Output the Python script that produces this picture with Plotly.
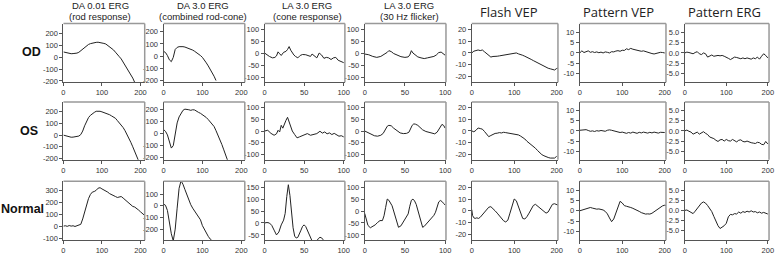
import plotly.graph_objects as go

W, H = 778, 255

# ---------------- text ----------------
col_titles_top = ["DA 0.01 ERG", "DA 3.0 ERG", "LA 3.0 ERG", "LA 3.0 ERG"]
col_titles_sub = ["(rod response)", "(combined rod-cone)", "(cone response)", "(30 Hz flicker)"]
col_titles_big = ["Flash VEP", "Pattern VEP", "Pattern ERG"]
row_labels = ["OD", "OS", "Normal"]

# ---------------- data ----------------
# DA 0.01 ERG (rod response)
da001_od_x = list(range(0, 190, 5))
da001_od_y = [45, 40, 35, 32, 30, 31, 32, 35, 42, 55,
              70, 85, 98, 108, 115, 120, 123, 126, 127, 125,
              122, 117, 112, 101, 90, 74, 62, 43, 27, 5,
              -14, -40, -60, -90, -113, -147, -176, -212]
da001_os_x = list(range(0, 200, 5))
da001_os_y = [0, -5, -10, -15, -18, -17, -15, -12, -8, 5,
              35, 80, 120, 150, 170, 185, 195, 205, 208, 205,
              200, 195, 190, 182, 175, 165, 155, 145, 125, 108,
              88, 65, 38, 8, -25, -62, -100, -140, -180, -220]
da001_n_x = list(range(0, 215, 5))
da001_n_y = [0, 3, -2, 5, 0, 3, -3, 2, 5, 15,
             60, 120, 180, 230, 265, 285, 290, 300, 318, 322,
             312, 305, 295, 285, 272, 262, 255, 248, 240, 245,
             248, 235, 220, 205, 190, 175, 165, 160, 150, 135,
             120, 105, 92]

# DA 3.0 ERG (combined rod-cone)
da30_od_x = list(range(0, 140, 5))
da30_od_y = [40, 30, 5, -30, -45, -10, 55, 72, 78, 80,
             78, 75, 70, 65, 58, 50, 40, 30, 17, 5,
             -10, -30, -55, -80, -105, -135, -165, -200]
da30_os_x = list(range(0, 170, 5))
da30_os_y = [35, 20, -10, -70, -120, -100, 0, 90, 140, 175,
             195, 205, 205, 200, 195, 200, 198, 185, 178, 170,
             160, 150, 135, 118, 98, 80, 60, 25, -10, -50,
             -90, -135, -180, -225]
da30_n_x = list(range(0, 130, 5))
da30_n_y = [15, 5, -40, -150, -240, -300, -200, -20, 150, 215,
            185, 140, 95, 50, 10, -20, -45, -65, -95, -120,
            -170, -205, -235, -262, -285, -300]

# LA 3.0 ERG (cone response)
la_cone_od_x = [0, 3, 6, 10, 13, 15, 17, 19, 21, 24, 27, 29, 31, 33, 35, 37, 39, 42, 45, 48,
                52, 55, 58, 60, 63, 66, 69, 72, 75, 78, 81, 84, 87, 90, 93, 96, 100]
la_cone_od_y = [0, -8, -14, -20, -18, -12, 5, -3, -10, 3, 7, 15, 27, 12, 0, -8, -14, -20, -10, -6,
                -7, -12, -14, -4, -12, -20, 0, -8, -22, -18, -20, -27, -20, -18, -30, -34, -40]
la_cone_os_x = [0, 4, 8, 12, 15, 17, 19, 21, 23, 25, 27, 29, 31, 33, 35, 38, 41, 44, 47, 50,
                54, 58, 62, 66, 70, 73, 76, 79, 82, 85, 88, 91, 94, 97, 100]
la_cone_os_y = [0, 3, -10, -18, -12, 3, -4, 24, 12, 31, 45, 58, 40, 17, 0, -15, -29, -25, -20, -15,
                -11, -18, -14, -11, -1, -9, -4, -12, -8, -15, -10, -18, -22, -20, -25]
la_cone_n_x = [0, 3, 6, 9, 12, 15, 18, 21, 24, 26, 28, 30, 32, 34, 36, 38, 40, 42, 44, 46,
               48, 50, 52, 54, 56, 58, 60, 62, 64, 66, 68, 70, 72, 74, 76, 78]
la_cone_n_y = [0, 2, 0, -10, -30, -50, -38, -8, 12, 40, 110, 160, 115, 40, -20, -55, -63, -60, -48, -30,
               -14, -8, -15, -30, -48, -65, -80, -90, -85, -72, -65, -60, -62, -70, -78, -85]

# LA 3.0 ERG (30 Hz flicker)
flick_od_x = [0, 5, 10, 15, 20, 25, 28, 30, 33, 36, 40, 45, 50, 54, 56, 58, 60, 63, 66, 70,
              74, 78, 82, 86, 89, 92, 95, 98, 100]
flick_od_y = [-4, -7, -14, -18, -14, -5, 3, 10, 6, -2, -9, -15, -18, -16, -8, 10, 0, -10, -16, -20,
              -23, -20, -18, -14, -8, 2, 4, -2, -9]
flick_os_x = [0, 4, 8, 12, 16, 20, 23, 26, 28, 30, 33, 36, 40, 44, 48, 52, 55, 57, 59, 61,
              63, 66, 69, 72, 76, 80, 84, 87, 90, 92, 94, 96, 98, 100]
flick_os_y = [0, -6, -12, -20, -22, -18, -10, 5, 20, 24, 22, 12, 0, -8, -11, -10, -5, 10, 24, 30,
              29, 24, 15, 5, -2, -6, -9, -12, -5, 5, 20, 28, 24, 12]
flick_n_x = [0, 2, 4, 7, 10, 13, 16, 19, 22, 24, 26, 28, 30, 32, 34, 36, 38, 40, 42, 45,
             48, 51, 54, 56, 58, 60, 62, 64, 66, 68, 70, 72, 74, 77, 80, 83, 86, 88, 90, 92,
             94, 96, 98, 100]
flick_n_y = [-10, -40, -60, -70, -65, -58, -48, -40, -40, -20, 15, 50, 45, 35, 22, 0, -25, -50, -68, -62,
             -45, -28, -12, 20, 45, 50, 42, 28, 5, -25, -50, -68, -64, -52, -38, -28, -18, -5, 20, 38,
             44, 40, 32, 25]

# Flash VEP
fvep_od_x = list(range(0, 210, 5))
fvep_od_y = [0, 1.5, 2, 2.5, 2, 2.5, 1, -0.5, -2.5, -3.5,
             -3, -3.2, -2.8, -2.5, -2.2, -2, -1.5, -1, -0.8, -0.2,
             -0.5, 0, -0.8, -1.2, -2, -2.8, -3.5, -4.5, -5.5, -6.5,
             -7.5, -8.5, -9.5, -10.5, -11.5, -12.2, -13, -13.5, -14, -14.5,
             -13.2, -12.5]
fvep_os_x = list(range(0, 205, 5))
fvep_os_y = [0, -0.8, 0.5, 2.5, 2, 1.5, -0.5, -3, -5, -4,
             -3, -2.2, -2, -1.5, -1.8, -1.2, -1.5, -1.8, -2, -2,
             -2.5, -3, -3.5, -4.5, -5.5, -7, -9, -10.5, -11.5, -13,
             -15, -17, -19, -20.5, -21.5, -22.5, -23, -23.5, -23.2, -23.5,
             -22]
fvep_n_x = [0, 2, 5, 8, 12, 16, 20, 25, 30, 35, 40, 45, 50, 55, 60, 65, 70, 75, 80, 85,
            90, 95, 100, 105, 110, 115, 120, 125, 130, 135, 140, 145, 150, 155, 160, 165, 170, 175, 180, 185,
            190, 195, 200, 205]
fvep_n_y = [1, -4, -6, -6.5, -6, -6.5, -5.5, -3.5, -1, 1, 3, 3.5, 2, 0, -2, -4.5, -6.5, -8.5, -9.5, -8,
            -2, 5, 10, 8.5, 3, -3, -6.5, -7, -5, -2, 2, 4.5, 5.5, 4, 3, 1.5, -0.5, -2, -1, 3,
            5.5, 6, 5, 4.5]

# Pattern VEP
pvep_od_x = list(range(0, 205, 5))
pvep_od_y = [0, 1, 0.2, 0.5, 1, 0.3, 0.6, 0.2, 0.5, 0.1,
             0.4, 0, 0.5, 0.3, 0, 0.6, 0.5, 0.9, 1.1, 0.8,
             1.3, 1.2, 2, 1.6, 2.2, 1.8, 1.6, 1.4, 1.2, 0.8,
             1, 0.6, 0.3, 0.1, -0.3, -0.5, -0.2, 0, 0.3, 0.2,
             0]
pvep_os_x = list(range(0, 205, 5))
pvep_os_y = [0.3, 0.5, 0.4, 0.6, 0.2, -0.2, 0, -0.3, 0.1, -0.1,
             0.2, 0, -0.2, 0.3, 0.5, 0.3, 0, -0.3, -0.5, -0.8,
             -0.6, -1, -1.2, -0.8, -1.1, -0.6, -0.9, -1.2, -0.7, -1,
             -0.6, -0.9, -1.1, -0.7, -1, -0.6, -0.8, -1.1, -0.7, -0.9,
             -0.8]
pvep_n_x = list(range(0, 210, 5))
pvep_n_y = [0, 0.3, 0.6, 1, 1.3, 1.6, 1.3, 0.9, 0.8, 0.9,
            0.7, 0.4, -0.3, -1.5, -3.5, -5.3, -4, -1, 2.5, 4.6,
            3.8, 2.5, 2.2, 2, 1.6, 1.2, 0.8, 0.3, -0.3, -0.9,
            -1.4, -1.6, -1.5, -1.6, -1.2, -0.5, 0.3, 1, 1.8, 2.4,
            2.7, 2.6]

# Pattern ERG
perg_od_x = list(range(0, 205, 5))
perg_od_y = [0, 0.2, 0.1, 0, -0.2, 0.1, 0.3, -0.2, -0.4, 0,
             -0.2, -1, -0.8, -0.5, -0.8, -0.7, -0.6, -0.7, -0.6, -0.8,
             -1, -1.3, -1.6, -1.2, -1, -1.1, -1.3, -1.4, -1.2, -1.4,
             -1.2, -1.3, -1.5, -1.2, -1.4, -1, -1.5, -0.8, -0.2, -0.6,
             -1.2]
perg_os_x = list(range(0, 205, 5))
perg_os_y = [0, 0.2, -0.1, -0.3, -0.8, -0.5, -0.3, -0.8, -0.4, -0.2,
             -0.6, -0.9, -1.5, -1.7, -1.9, -2.3, -2.6, -2.2, -2.1, -2.5,
             -2.1, -2.4, -2.5, -2.1, -2.4, -2.7, -2.3, -2.2, -2.6, -2.7,
             -2.5, -2.8, -2.9, -3, -3.1, -2.8, -2.9, -3.3, -3.4, -2.6,
             -3.2]
perg_n_x = list(range(0, 205, 5))
perg_n_y = [0, 0.1, -0.2, -0.5, -0.8, -0.2, 0.5, 1.1, 1.8, 2.1,
            1.8, 1.2, 0.5, -0.3, -1.5, -2.8, -3.8, -4.5, -4.2, -3.8,
            -3.2, -1.6, -1, -1.1, -0.8, -0.9, -0.4, -0.7, -0.3, -0.5,
            -0.2, -0.4, -0.1, -0.4, -0.3, -0.6, -0.4, -0.7, -0.5, -0.8,
            -0.9]

# axis scales per panel (row, col): y range and y ticks
x_ranges = [[0, 211], [0, 209], [0, 101.5], [0, 101], [0, 203], [0, 203], [0, 203]]
x_ticks = [[0, 100, 200], [0, 100, 200], [0, 50, 100], [0, 50, 100],
           [0, 100, 200], [0, 100, 200], [0, 100, 200]]
y_ranges = [
    [[-212, 285], [-215, 268], [-122, 123], [-122, 123], [-25, 25], [-14.2, 14.2], [-7.1, 7.1]],
    [[-212, 285], [-218, 265], [-122, 123], [-122, 123], [-25, 25], [-14.2, 14.2], [-7.1, 7.1]],
    [[-118, 375], [-295, 210], [-72, 174], [-122, 124], [-25, 25], [-14.3, 14.3], [-7.4, 7.2]],
]
y_ticks_std = [-200, -100, 0, 100, 200]
y_ticks = [
    [y_ticks_std, y_ticks_std, [-100, -50, 0, 50, 100], [-100, -50, 0, 50, 100],
     [-20, -10, 0, 10, 20], [-10, -5, 0, 5, 10], [-5, -2.5, 0, 2.5, 5]],
    [y_ticks_std, y_ticks_std, [-100, -50, 0, 50, 100], [-100, -50, 0, 50, 100],
     [-20, -10, 0, 10, 20], [-10, -5, 0, 5, 10], [-5, -2.5, 0, 2.5, 5]],
    [[-100, 0, 100, 200, 300], [-200, -100, 0, 100], [-50, 0, 50, 100, 150], [-100, -50, 0, 50, 100],
     [-20, -10, 0, 10, 20], [-10, -5, 0, 5, 10], [-5, -2.5, 0, 2.5, 5]],
]

series = [
    [(da001_od_x, da001_od_y), (da30_od_x, da30_od_y), (la_cone_od_x, la_cone_od_y),
     (flick_od_x, flick_od_y), (fvep_od_x, fvep_od_y), (pvep_od_x, pvep_od_y), (perg_od_x, perg_od_y)],
    [(da001_os_x, da001_os_y), (da30_os_x, da30_os_y), (la_cone_os_x, la_cone_os_y),
     (flick_os_x, flick_os_y), (fvep_os_x, fvep_os_y), (pvep_os_x, pvep_os_y), (perg_os_x, perg_os_y)],
    [(da001_n_x, da001_n_y), (da30_n_x, da30_n_y), (la_cone_n_x, la_cone_n_y),
     (flick_n_x, flick_n_y), (fvep_n_x, fvep_n_y), (pvep_n_x, pvep_n_y), (perg_n_x, perg_n_y)],
]

# ---------------- layout (pixel boxes) ----------------
col_px = [(62, 144), (163, 245), (265, 346), (366, 448), (474, 561), (583, 670), (689, 774)]
row_px = [(24, 84), (104, 163), (185, 245)]


def fmt(v, col):
    if col == 6:
        s = "%.1f" % v
    else:
        s = "%g" % v
    return s


TICKFONT = dict(family="Arial, Liberation Sans, sans-serif", size=7.5, color="#333")

fig = go.Figure()
layout = dict(width=W, height=H, margin=dict(l=0, r=0, t=0, b=0), autosize=False,
              paper_bgcolor="white", plot_bgcolor="white", showlegend=False)
shapes = []
for r in range(3):
    for c in range(7):
        n = r * 7 + c + 1
        sx = "" if n == 1 else str(n)
        xs, ys = series[r][c]
        fig.add_trace(go.Scatter(x=xs, y=ys, mode="lines", xaxis="x" + sx, yaxis="y" + sx,
                                 line=dict(color="#222", width=1), hoverinfo="skip"))
        x0, x1 = col_px[c]
        y0, y1 = row_px[r]
        common = dict(showline=True, linecolor="#555", linewidth=1, showgrid=False, zeroline=False,
                      ticks="outside", ticklen=3, tickwidth=1, tickcolor="#555", tickfont=TICKFONT,
                      tickmode="array", fixedrange=True)
        layout["xaxis" + sx] = dict(domain=[x0 / W, x1 / W], anchor="y" + sx, range=x_ranges[c],
                                    tickvals=x_ticks[c], ticktext=[fmt(v, -1) for v in x_ticks[c]],
                                    **common)
        layout["yaxis" + sx] = dict(domain=[1 - y1 / H, 1 - y0 / H], anchor="x" + sx, range=y_ranges[r][c],
                                    tickvals=y_ticks[r][c], ticktext=[fmt(v, c) for v in y_ticks[r][c]],
                                    **common)
        xd = "x" + sx + " domain"
        yd = "y" + sx + " domain"
        shapes.append(dict(type="line", xref=xd, yref=yd, x0=0, x1=1, y0=1, y1=1,
                           line=dict(color="#999", width=1.5)))
        shapes.append(dict(type="line", xref=xd, yref=yd, x0=1, x1=1, y0=0, y1=1,
                           line=dict(color="#999", width=1.5)))
layout["shapes"] = shapes

ann = []
small_centers = [99, 203, 308, 411]
for i in range(4):
    ann.append(dict(text=col_titles_top[i], x=small_centers[i] / W, y=1 - 5.5 / H, xref="paper", yref="paper",
                    showarrow=False, xanchor="center", yanchor="middle",
                    font=dict(family="Arial, Liberation Sans, sans-serif", size=9.5, color="#222")))
    ann.append(dict(text=col_titles_sub[i], x=small_centers[i] / W, y=1 - 16.5 / H, xref="paper", yref="paper",
                    showarrow=False, xanchor="center", yanchor="middle",
                    font=dict(family="Arial, Liberation Sans, sans-serif", size=9.5, color="#222")))
big_centers = [512, 622, 729]
for i in range(3):
    ann.append(dict(text=col_titles_big[i], x=big_centers[i] / W, y=1 - 12 / H, xref="paper", yref="paper",
                    showarrow=False, xanchor="center", yanchor="middle",
                    font=dict(family="Open Sans, sans-serif", size=13, color="#222")))
row_centers = [(30, 53), (27, 134), (21, 213)]
for i in range(3):
    ann.append(dict(text="<b>" + row_labels[i] + "</b>", x=row_centers[i][0] / W, y=1 - row_centers[i][1] / H,
                    xref="paper", yref="paper", showarrow=False, xanchor="center", yanchor="middle",
                    font=dict(family="Arial, Liberation Sans, sans-serif", size=12.5, color="#111")))
layout["annotations"] = ann

fig.update_layout(**layout)
fig.write_html("out.html", config={"displayModeBar": False, "staticPlot": True},
               post_script="document.body.style.margin='0';document.body.style.overflow='hidden';")
